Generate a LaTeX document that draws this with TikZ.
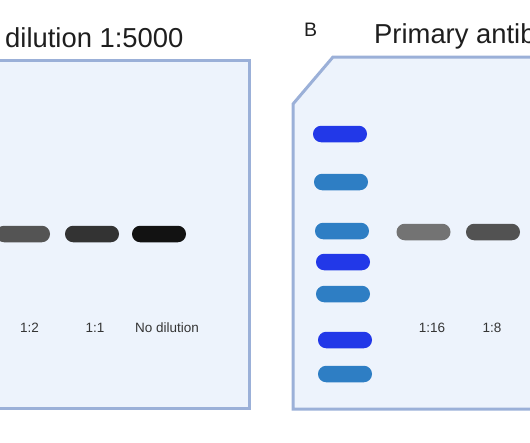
\documentclass[tikz,border=0pt]{standalone}
\usepackage{fontspec}
\setmainfont{Liberation Sans}
\definecolor{membfill}{RGB}{237,243,252}
\definecolor{membline}{RGB}{155,176,216}
\definecolor{ladblue}{RGB}{34,56,232}
\definecolor{ladsteel}{RGB}{46,126,196}
\definecolor{txt}{RGB}{30,30,30}
\begin{document}
\begin{tikzpicture}[x=1pt,y=-1pt,
  membrane/.style={fill=membfill,draw=membline,line width=3pt,line join=miter},
  band/.style={rectangle,rounded corners=8.2pt,minimum width=54pt,minimum height=16.5pt,inner sep=0pt,draw=none},
  lanelabel/.style={anchor=base,font=\fontsize{13.5}{16}\selectfont,text=txt!90,inner sep=0pt},
  titletext/.style={anchor=base west,font=\fontsize{27.4}{32}\selectfont,text=txt,inner sep=0pt}]
\useasboundingbox (0,0) rectangle (530,442);
\clip (0,0) rectangle (530,442);
% membranes
\draw[membrane] (-20,60) -- (249,60) -- (249,408) -- (-20,408) -- cycle;
\draw[membrane] (333,57) -- (560,57) -- (560,409) -- (293,409) -- (293,104) -- cycle;
% titles
\node[titletext] (t1) at (5,47.5) {dilution 1:5000};
\node[anchor=base west,font=\fontsize{19.5}{22}\selectfont,text=txt,inner sep=0pt] (lb) at (304,36) {B};
\node[titletext] (t2) at (374,43) {Primary antib};
% left panel bands
\node[band,fill=black!67] (l1) at (23,234) {};
\node[band,fill=black!80] (l2) at (92,234) {};
\node[band,fill=black!93] (l3) at (159,234) {};
\node[lanelabel] (ll1) at (29.5,332) {1:2};
\node[lanelabel] (ll2) at (95,332) {1:1};
\node[lanelabel] (ll3) at (167,332) {No dilution};
% ladder
\node[band,fill=ladblue] (m1) at (340,134) {};
\node[band,fill=ladsteel] (m2) at (341,182) {};
\node[band,fill=ladsteel] (m3) at (342,231) {};
\node[band,fill=ladblue] (m4) at (343,262) {};
\node[band,fill=ladsteel] (m5) at (343,294) {};
\node[band,fill=ladblue] (m6) at (345,340) {};
\node[band,fill=ladsteel] (m7) at (345,374) {};
% right panel bands
\node[band,fill=black!55] (r1) at (423.5,232) {};
\node[band,fill=black!68] (r2) at (493,232) {};
\node[lanelabel] (rl1) at (432,332) {1:16};
\node[lanelabel] (rl2) at (492,332) {1:8};
\end{tikzpicture}
\end{document}
